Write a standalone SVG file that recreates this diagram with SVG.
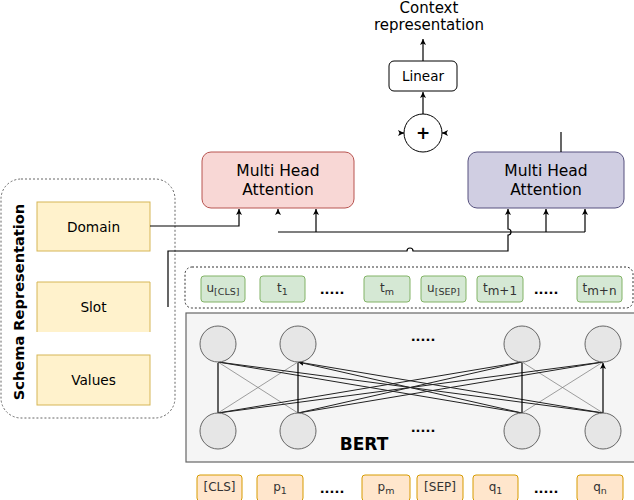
<svg xmlns="http://www.w3.org/2000/svg" width="634" height="500" viewBox="0 0 634 500">
<defs>
<style>
text{font-family:"DejaVu Sans",Verdana,sans-serif;fill:#000}
.c{text-anchor:middle}
.tok{font-size:12px;fill:#333;text-anchor:middle}
.sub{font-size:9.5px}
.dots{font-size:13px;font-weight:bold;text-anchor:middle}
.gtok{fill:#d5e8d4;stroke:#82b366;stroke-width:1}
.otok{fill:#ffe6cc;stroke:#d79b00;stroke-width:1}
.ybox{fill:#fff2cc;stroke:#d6b656;stroke-width:1}
.neuron{fill:#e6e6e6;stroke:#666;stroke-width:1}
.ln{fill:none;stroke:#000;stroke-width:1.2}
.bl{fill:none;stroke:#222;stroke-width:1}
.thin{fill:none;stroke:#777;stroke-width:0.7}
</style>
<marker id="arr" markerWidth="7" markerHeight="7" refX="6" refY="3.5" orient="auto" markerUnits="userSpaceOnUse">
<path d="M0,0.5 L6,3.5 L0,6.5 L1.5,3.5 Z" fill="#000"/>
</marker>
</defs>

<g id="context-label">
<text class="c" x="429" y="13" font-size="15">Context</text>
<text class="c" x="429" y="30" font-size="15">representation</text>
</g>

<g id="linear">
<rect x="389" y="61" width="68" height="30" rx="5" fill="#fff" stroke="#000" stroke-width="1"/>
<text class="c" x="423" y="81" font-size="13.5">Linear</text>
</g>

<g id="plus">
<circle cx="423" cy="133" r="19" fill="#fff" stroke="#000" stroke-width="1"/>
<text class="c" x="423" y="139" font-size="17" font-weight="bold">+</text>
</g>

<g id="mha-red">
<rect x="202" y="152" width="152" height="56" rx="9" fill="#f8d7d5" stroke="#b85450" stroke-width="1"/>
<text class="c" x="278" y="176" font-size="15.5">Multi Head</text>
<text class="c" x="278" y="195" font-size="15.5">Attention</text>
</g>

<g id="mha-purple">
<rect x="468" y="152" width="156" height="56" rx="9" fill="#d0cee2" stroke="#56517e" stroke-width="1"/>
<text class="c" x="546" y="176" font-size="15.5">Multi Head</text>
<text class="c" x="546" y="195" font-size="15.5">Attention</text>
</g>

<g id="schema">
<rect x="1" y="179" width="174" height="239" rx="20" fill="none" stroke="#666" stroke-width="1" stroke-dasharray="2,2"/>
<text class="c" transform="translate(24,302) rotate(-90)" font-size="14.6" font-weight="bold">Schema Representation</text>
</g>

<g id="domain">
<rect class="ybox" x="37" y="202" width="113" height="49"/>
<text class="c" x="93.5" y="232" font-size="13.7">Domain</text>
</g>

<g id="slot">
<rect x="37" y="282" width="113" height="50" fill="#fff2cc"/>
<path d="M37,332 V282 H150 V332" fill="none" stroke="#d6b656" stroke-width="1"/>
<text class="c" x="93.5" y="312" font-size="13.7">Slot</text>
</g>

<g id="values">
<rect class="ybox" x="37" y="355" width="113" height="50"/>
<text class="c" x="93.5" y="385" font-size="13.7">Values</text>
</g>

<g id="token-row-top">
<rect x="185" y="267" width="448" height="41" rx="7" fill="none" stroke="#333" stroke-width="1" stroke-dasharray="2,2"/>
</g>
<g id="tok-ucls"><rect class="gtok" x="201" y="276" width="44" height="26" rx="3"/><text class="tok" x="223" y="292">u<tspan class="sub" dy="3">[CLS]</tspan></text></g>
<g id="tok-t1"><rect class="gtok" x="260" y="276" width="45" height="26" rx="3"/><text class="tok" x="282.5" y="292">t<tspan class="sub" dy="3">1</tspan></text></g>
<g id="dots-t1"><text class="dots" x="332" y="294">.....</text></g>
<g id="tok-tm"><rect class="gtok" x="364" y="276" width="46" height="26" rx="3"/><text class="tok" x="387" y="292">t<tspan class="sub" dy="3">m</tspan></text></g>
<g id="tok-usep"><rect class="gtok" x="421" y="276" width="45" height="26" rx="3"/><text class="tok" x="443.5" y="292">u<tspan class="sub" dy="3">[SEP]</tspan></text></g>
<g id="tok-tm1"><rect class="gtok" x="477" y="276" width="46" height="26" rx="3"/><text class="tok" x="500" y="292">t<tspan font-size="12" dy="3">m+1</tspan></text></g>
<g id="dots-t2"><text class="dots" x="546" y="294">.....</text></g>
<g id="tok-tmn"><rect class="gtok" x="577" y="276" width="45" height="26" rx="3"/><text class="tok" x="599.5" y="292">t<tspan font-size="12" dy="3">m+n</tspan></text></g>

<g id="bert">
<rect x="186" y="313" width="450" height="149" fill="#f5f5f5" stroke="#666" stroke-width="1.2"/>
<text class="dots" x="423" y="341">.....</text>
<text class="dots" x="423" y="432">.....</text>
<text class="c" x="364" y="450" font-size="17" font-weight="bold">BERT</text>
</g>

<g id="bert-edges">
<path class="thin" d="M218,413 L298,362 M298,413 L218,362 M522,413 L603,362 M603,413 L522,362"/>
<path class="bl" d="M218,413 L522,362 M218,413 L603,362 M298,413 L522,362 M298,413 L603,362 M522,413 L218,362 M522,413 L298,362 M603,413 L218,362 M603,413 L298,362" marker-end="url(#arr)"/>
<path class="ln" d="M218,413 V363 M298,413 V363 M522,413 V363 M603,413 V363" marker-end="url(#arr)"/>
</g>

<g id="neurons">
<circle class="neuron" cx="218" cy="344" r="18"/>
<circle class="neuron" cx="298" cy="344" r="18"/>
<circle class="neuron" cx="522" cy="344" r="18"/>
<circle class="neuron" cx="603" cy="344" r="18"/>
<circle class="neuron" cx="218" cy="431" r="18"/>
<circle class="neuron" cx="298" cy="431" r="18"/>
<circle class="neuron" cx="522" cy="431" r="18"/>
<circle class="neuron" cx="603" cy="431" r="18"/>
</g>

<g id="tok-cls"><rect class="otok" x="197" y="475" width="45" height="26" rx="3"/><text class="tok" x="219.5" y="491">[CLS]</text></g>
<g id="tok-p1"><rect class="otok" x="257" y="475" width="46" height="26" rx="3"/><text class="tok" x="280" y="491">p<tspan class="sub" dy="3">1</tspan></text></g>
<g id="dots-p"><text class="dots" x="332" y="493">.....</text></g>
<g id="tok-pm"><rect class="otok" x="362" y="475" width="48" height="26" rx="3"/><text class="tok" x="386" y="491">p<tspan class="sub" dy="3">m</tspan></text></g>
<g id="tok-sep"><rect class="otok" x="417" y="475" width="46" height="26" rx="3"/><text class="tok" x="440" y="491">[SEP]</text></g>
<g id="tok-q1"><rect class="otok" x="473" y="475" width="45" height="26" rx="3"/><text class="tok" x="495.5" y="491">q<tspan class="sub" dy="3">1</tspan></text></g>
<g id="dots-q"><text class="dots" x="546" y="493">.....</text></g>
<g id="tok-qn"><rect class="otok" x="577" y="475" width="46" height="26" rx="3"/><text class="tok" x="600" y="491">q<tspan class="sub" dy="3">n</tspan></text></g>

<g id="connectors">
<path class="ln" d="M423,61 V39" marker-end="url(#arr)"/>
<path class="ln" d="M423,114 V92" marker-end="url(#arr)"/>
<path class="ln" d="M400,133 H404" marker-end="url(#arr)"/>
<path class="ln" d="M446,133 H442" marker-end="url(#arr)"/>
<path class="ln" d="M561,132 V152"/>
<path class="ln" d="M150,226 H239 V209" marker-end="url(#arr)"/>
<path class="ln" d="M278,212 V209" marker-end="url(#arr)"/>
<path class="ln" d="M278,232 H585"/>
<path class="ln" d="M316,232 V209" marker-end="url(#arr)"/>
<path class="ln" d="M546,232 V209" marker-end="url(#arr)"/>
<path class="ln" d="M585,232 V209" marker-end="url(#arr)"/>
<path class="ln" d="M168,307 V251 H407 A3,3 0 0 1 413,251 H508 V235 A3,3 0 0 0 508,229 V209" marker-end="url(#arr)"/>
</g>
</svg>
